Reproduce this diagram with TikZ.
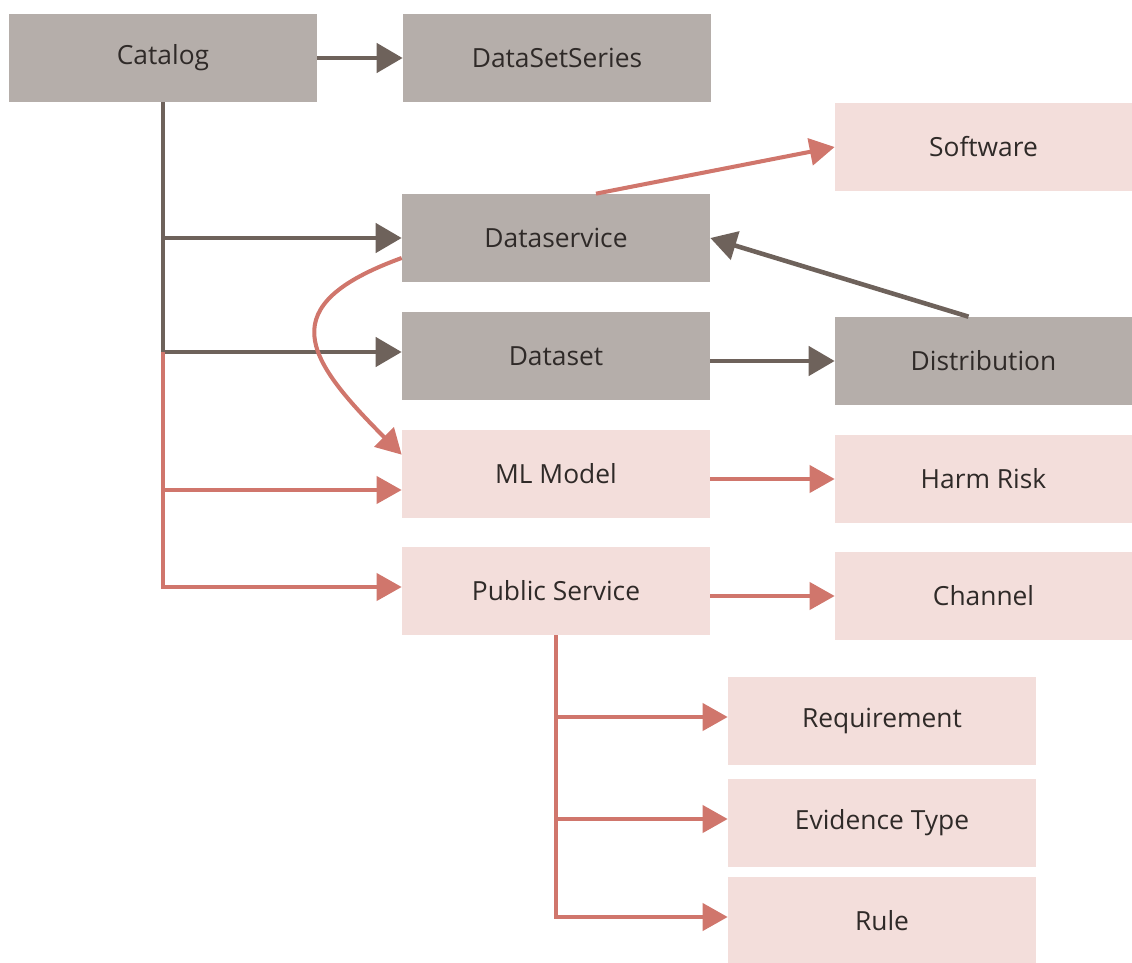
\documentclass[tikz,border=0pt]{standalone}
\usepackage{fontspec}
\usepackage{tikz}
\usetikzlibrary{arrows.meta,positioning}
\newfontfamily\boxfont{Open Sans}
\definecolor{coregray}{HTML}{B5AEAA}
\definecolor{extpink}{HTML}{F3DEDB}
\definecolor{corearrow}{HTML}{6E625B}
\definecolor{extarrow}{HTML}{D0766C}
\definecolor{boxtext}{HTML}{2F2A28}

\tikzset{
    basebox/.style={
        text=boxtext,
        font=\boxfont\fontsize{15}{18}\selectfont,
        minimum height=1.76cm,
        minimum width=6.16cm,
        inner sep=0pt
    },
    corebox/.style={basebox, fill=coregray},
    extbox/.style={basebox, fill=extpink},
    widebox/.style={minimum width=5.94cm},
    corelink/.style={draw=corearrow, line width=2.6pt,
        -{Triangle[length=0.52cm,width=0.58cm]}},
    extlink/.style={draw=extarrow, line width=2.3pt,
        -{Triangle[length=0.5cm,width=0.54cm]}}
}

\begin{document}
\begin{tikzpicture}[x=0.02cm, y=0.02cm]
    \useasboundingbox (0,0) rectangle (1132,-963);

    % Core vocabulary classes (gray)
    \node(catalog)[corebox] at (163,-58) {Catalog};
    \node(datasetseries)[corebox] at (557,-58) {DataSetSeries};
    \node(dataservice)[corebox] at (556,-238) {Dataservice};
    \node(dataset)[corebox] at (556,-356) {Dataset};
    \node(distribution)[corebox, widebox] at (983.5,-361) {Distribution};

    % Extension classes (pink)
    \node(software)[extbox, widebox] at (983.5,-147) {Software};
    \node(mlmodel)[extbox] at (556,-474) {ML Model};
    \node(harmrisk)[extbox, widebox] at (983.5,-479) {Harm Risk};
    \node(publicservice)[extbox] at (556,-591) {Public Service};
    \node(channel)[extbox, widebox] at (983.5,-596) {Channel};
    \node(requirement)[extbox] at (882,-721) {Requirement};
    \node(evidencetype)[extbox] at (882,-823) {Evidence Type};
    \node(rule)[extbox] at (882,-921) {Rule};

    % Catalog links
    \draw[corelink] (catalog.east) -- (datasetseries.west);
    \draw[corelink] (catalog.south) |- (dataservice.west);
    \draw[corelink] (catalog.south) |- ([yshift=0.08cm]dataset.west);
    \coordinate (junction) at ([yshift=0.08cm]catalog.south |- dataset.west);
    \draw[extlink] (junction) |- ([yshift=-0.32cm]mlmodel.west);
    \draw[extlink] (junction) |- ([yshift=0.08cm]publicservice.west);

    % Links between core classes
    \draw[corelink] (dataset.east |- distribution.west) -- (distribution.west);
    \draw[corelink] ([xshift=-0.3cm]distribution.north) -- (dataservice.east);

    % Extension links
    \draw[extlink] ([xshift=0.8cm]dataservice.north) -- (software.west);
    \draw[extlink] ([yshift=-0.4cm]dataservice.west)
        to[out=200, in=135, looseness=1.8] ([yshift=-0.5cm]mlmodel.north west);
    \draw[extlink] (mlmodel.east |- harmrisk.west) -- (harmrisk.west);
    \draw[extlink] (publicservice.east |- channel.west) -- (channel.west);

    % Public service parts
    \foreach \part in {requirement, evidencetype, rule} {
        \draw[extlink] (publicservice.south) |- ([yshift=0.08cm]\part.west);
    }
\end{tikzpicture}
\end{document}
